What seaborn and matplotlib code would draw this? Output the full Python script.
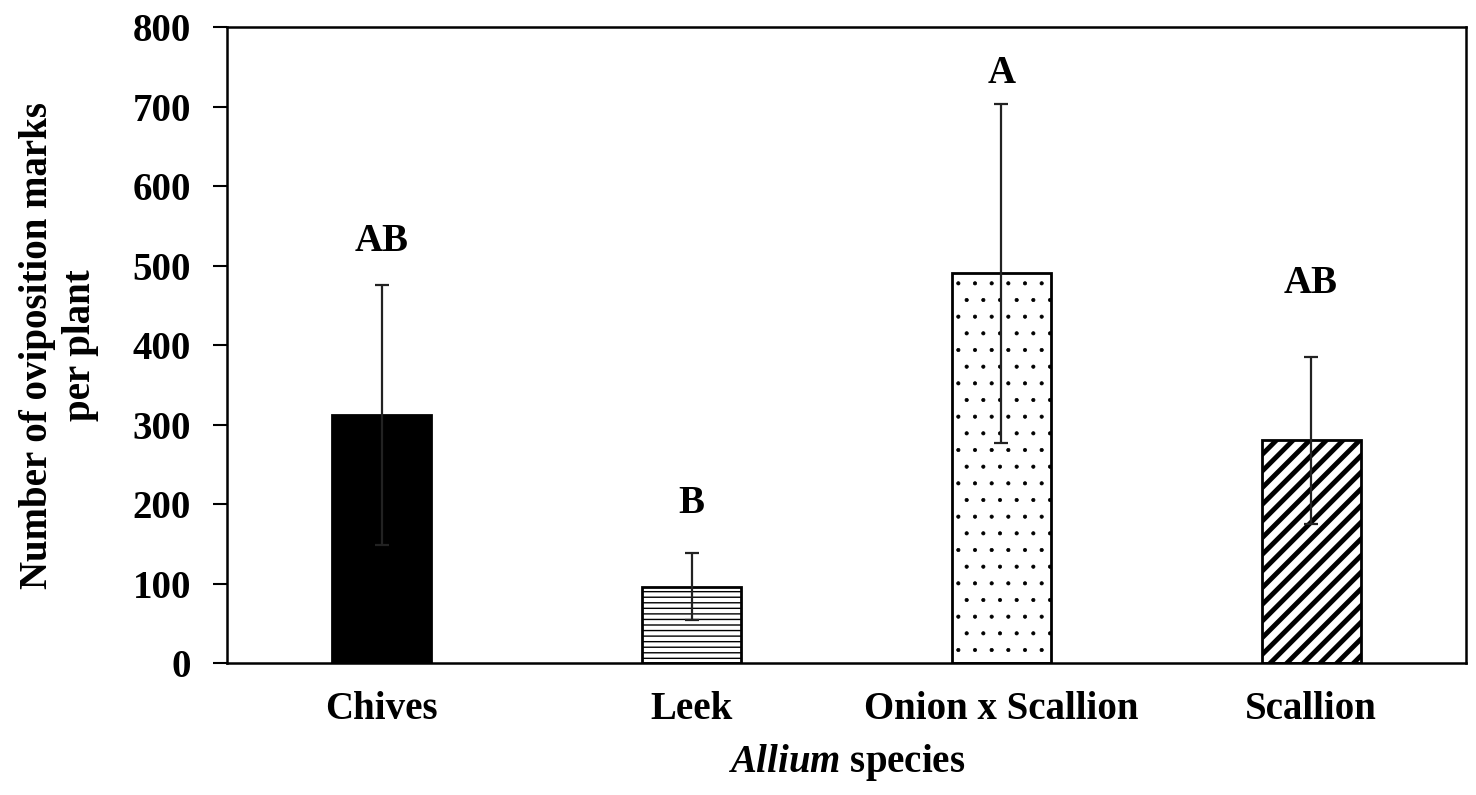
import matplotlib
matplotlib.use("Agg")
import matplotlib.pyplot as plt
import seaborn as sns
import pandas as pd

species = ["Chives", "Leek", "Onion x Scallion", "Scallion"]
means = [312, 96, 490, 280]
errors = [163, 42, 213, 105]
letters = ["AB", "B", "A", "AB"]
letter_y = [530, 201, 742, 478]
yticks = [0, 100, 200, 300, 400, 500, 600, 700, 800]

sns.set_theme(style="white")
plt.rcParams["font.family"] = ["Liberation Serif", "DejaVu Serif"]
plt.rcParams["font.weight"] = "bold"
plt.rcParams["text.color"] = "black"
plt.rcParams["axes.labelcolor"] = "black"
plt.rcParams["xtick.color"] = "black"
plt.rcParams["ytick.color"] = "black"
plt.rcParams["mathtext.fontset"] = "custom"
plt.rcParams["mathtext.it"] = "Liberation Serif:italic:bold"
plt.rcParams["mathtext.rm"] = "Liberation Serif:bold"
plt.rcParams["hatch.color"] = "black"

df = pd.DataFrame({"species": species, "mean": means})

fig = plt.figure(figsize=(14.76, 7.95), dpi=100)
ax = fig.add_axes([0.1538, 0.166, 0.8394, 0.800])

colors = ["black", "white", "white", "white"]
sns.barplot(data=df, x="species", y="mean", hue="species", palette=colors,
            order=species, errorbar=None, width=0.32, edgecolor="black",
            linewidth=2, legend=False, ax=ax)

hatches = ["", "---", ".", "//"]
hlw = [1.0, 1.0, 0.5, 3.5]
for p, h, lw in zip(ax.patches, hatches, hlw):
    p.set_hatch(h)
    if hasattr(p, "set_hatch_linewidth"):
        p.set_hatch_linewidth(lw)

ax.errorbar(range(len(species)), means, yerr=errors, fmt="none",
            ecolor="#222222", elinewidth=1.6, capsize=5, capthick=1.6, zorder=5)

for i, (t, yv) in enumerate(zip(letters, letter_y)):
    ax.text(i, yv, t, ha="center", va="center", fontsize=28,
            fontweight="bold", color="black")

ax.set_ylim(0, 800)
ax.set_xlim(-0.5, 3.5)
ax.set_yticks(yticks)
ax.set_yticklabels([str(v) for v in yticks], fontsize=28, fontweight="bold")
ax.tick_params(axis="y", direction="out", length=10, width=1.5, left=True, pad=16)
ax.tick_params(axis="x", length=0, pad=20, labelsize=28)
for lab in ax.get_xticklabels():
    lab.set_fontweight("bold")

for s in ax.spines.values():
    s.set_visible(True)
    s.set_color("black")
    s.set_linewidth(1.8)

ax.set_ylabel("Number of oviposition marks\nper plant", fontsize=28,
              fontweight="bold", linespacing=1.2, labelpad=24)
ax.set_xlabel(r"$\mathit{Allium}$ species", fontsize=28, fontweight="bold",
              labelpad=10)

fig.savefig("out.png", dpi=100, facecolor="white")
